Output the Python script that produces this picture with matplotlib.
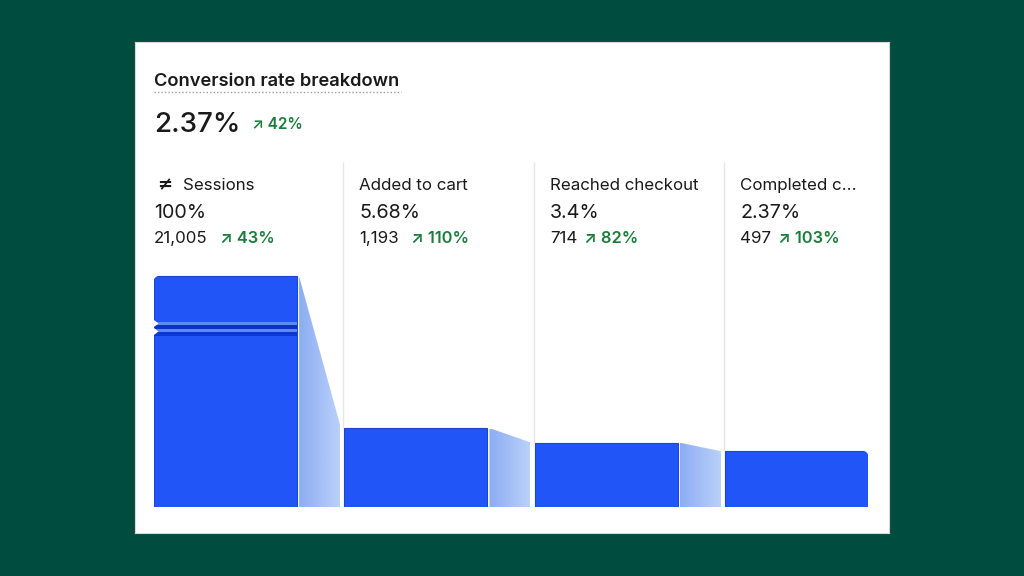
import numpy as np
import matplotlib
matplotlib.use("Agg")
import matplotlib.pyplot as plt
from matplotlib.patches import Rectangle, Polygon
from matplotlib.transforms import blended_transform_factory

plt.rcParams['font.family'] = ['Inter', 'DejaVu Sans']

# -------------------- data --------------------
steps = ["Sessions", "Added to cart", "Reached checkout", "Completed c..."]
rates = [100, 5.68, 3.4, 2.37]
rate_labels = ["100%", "5.68%", "3.4%", "2.37%"]
counts = [21005, 1193, 714, 497]
changes = [43, 110, 82, 103]
overall_rate = "2.37%"
overall_change = 42

# -------------------- looks --------------------
BG = "#004c3f"
BLUE = "#2255f7"
BLUE_EDGE = "#1a44d8"
TEXT = "#1a1a1a"
GREEN = "#1b7d3b"
DIVIDER = "#e6e6e6"
BREAK_CAP = 83      # visual cap of the broken first bar
W = 0.75            # bar width (column = 1)

W_PX, H_PX = 1024, 576
def fx(px): return px / W_PX
def fy(py): return 1 - py / H_PX

fig = plt.figure(figsize=(10.24, 5.76), dpi=100, facecolor=BG)

# card
card = fig.add_axes([fx(135), fy(533), fx(889) - fx(135), fy(42) - fy(533)])
card.set_facecolor("white")
card.set_xticks([]); card.set_yticks([])
for s in card.spines.values():
    s.set_color("#d9d9d9")
    s.set_linewidth(0.8)

# -------------------- header --------------------
fig.text(fx(154), fy(86), "Conversion rate breakdown", fontsize=13.2,
         fontweight="semibold", color=TEXT, va="baseline", ha="left")
fig.add_artist(plt.Line2D([fx(154), fx(401)], [fy(92), fy(92)], color="#a0a0a0",
                          lw=1, linestyle=(0, (1, 1.5)), transform=fig.transFigure))
big = fig.text(fx(154), fy(132), overall_rate, fontsize=20, color=TEXT,
               va="baseline", ha="left", fontweight="medium")
fig.canvas.draw()
r = fig.canvas.get_renderer()
bx = big.get_window_extent(r).x1
fig.text((bx + 12) / W_PX, fy(129), f"\u2197 {overall_change}%", fontsize=11,
         color=GREEN, va="baseline", ha="left", fontweight="semibold")

# -------------------- funnel axes --------------------
AX_TOP, AX_BOT = 162, 507
ax = fig.add_axes([fx(154), fy(AX_BOT), fx(868) - fx(154), fy(AX_TOP) - fy(AX_BOT)])
ax.set_facecolor("none")
ax.set_yscale("function", functions=(lambda v: np.sign(v) * np.abs(v) ** 0.4,
                                     lambda v: np.sign(v) * np.abs(v) ** 2.5))
ax.axis("off")

x = np.arange(len(steps))
heights = np.minimum(np.array(rates, dtype=float), BREAK_CAP)

ax.bar(x, heights, width=W, align="edge", color=BLUE, edgecolor=BLUE_EDGE,
       linewidth=0.8, zorder=5)

# dividers from the top of the columns down to the bar tops
ax.vlines(x[1:] - 0.006, heights[1:], 227, color=DIVIDER, lw=1, zorder=1)

# connectors with a horizontal gradient
grad = np.linspace(0, 1, 256).reshape(1, -1)
cmap = matplotlib.colors.LinearSegmentedColormap.from_list("conn", ["#8dadf3", "#bcd2f9"])
for i in range(len(steps) - 1):
    x0, x1 = x[i] + W + 0.012, x[i + 1] - 0.018
    poly = Polygon([(x0, heights[i]), (x1, heights[i + 1]), (x1, 0), (x0, 0)],
                   closed=True, facecolor="none", edgecolor="none")
    ax.add_patch(poly)
    im = ax.imshow(grad, extent=(x0, x1, 0, heights[i]), cmap=cmap, aspect="auto",
                   zorder=3, interpolation="bilinear")
    im.set_clip_path(poly)
ax.set_xlim(0, len(steps) - 1 + W)
ax.set_ylim(0, 227)

# axis-break marks on the first bar
bt = blended_transform_factory(ax.transData, ax.transAxes)
def af(py): return (AX_BOT - py) / (AX_BOT - AX_TOP)
for top, bot, col in [(322, 325, "#5f8af6"), (325, 329, "#0a33c6"),
                      (329, 332, "#5f8af6"), (332, 336, "#0d38d0")]:
    ax.add_patch(Rectangle((0, af(bot)), W, af(top) - af(bot), transform=bt,
                           facecolor=col, edgecolor="none", zorder=6))
for cy in (323.5, 331.5):
    ax.add_patch(Polygon([(-0.004, af(cy - 4)), (0.024, af(cy)), (-0.004, af(cy + 4))],
                         closed=True, transform=bt, facecolor="white",
                         edgecolor="none", zorder=7, clip_on=False))

# rounded outer corners (first bar top-left, last bar top-right)
fig.canvas.draw()
rad = 6
def corner_mask(px, py, side):
    # px, py: corner in display pixels; side -1 = left corner, +1 = right corner
    cx, cy = px - side * rad, py - rad
    ang = np.linspace(0, np.pi / 2, 20)
    arc = np.column_stack([cx + side * rad * np.cos(ang), cy + rad * np.sin(ang)])
    pts = np.vstack([[px, py - rad], arc, [px - side * rad, py], [px + side, py + 1]])
    return Polygon(pts, closed=True, transform=None, facecolor="white",
                   edgecolor="none", zorder=8)
p0 = ax.transData.transform((x[0], heights[0]))
p3 = ax.transData.transform((x[-1] + W, heights[-1]))
fig.add_artist(corner_mask(p0[0] - 0.5, p0[1] + 0.5, -1))
fig.add_artist(corner_mask(p3[0] + 0.5, p3[1] + 0.5, 1))

# -------------------- column texts --------------------
col_left = [154, 359, 550, 740]
gaps = [12, 12, 7, 7]
for i, name in enumerate(steps):
    tx = col_left[i]
    if i == 0:
        fig.text(fx(tx + 3), fy(190), "\u2260", fontsize=13, fontweight="bold",
                 color=TEXT, va="baseline", ha="left", family=["DejaVu Sans"])
        fig.text(fx(tx + 29), fy(190), name, fontsize=12.2, color=TEXT,
                 va="baseline", ha="left")
    else:
        fig.text(fx(tx), fy(190), name, fontsize=12.2, color=TEXT,
                 va="baseline", ha="left")
    fig.text(fx(tx), fy(218), rate_labels[i], fontsize=14.2, color=TEXT,
             va="baseline", ha="left")
    ct = fig.text(fx(tx), fy(243), f"{counts[i]:,}", fontsize=12.2, color=TEXT,
                  va="baseline", ha="left")
    cx = ct.get_window_extent(r).x1
    fig.text((cx + gaps[i]) / W_PX, fy(243), f"\u2197 {changes[i]}%", fontsize=11.8,
             color=GREEN, va="baseline", ha="left", fontweight="semibold")

fig.savefig("out.png", dpi=100, facecolor=BG)
